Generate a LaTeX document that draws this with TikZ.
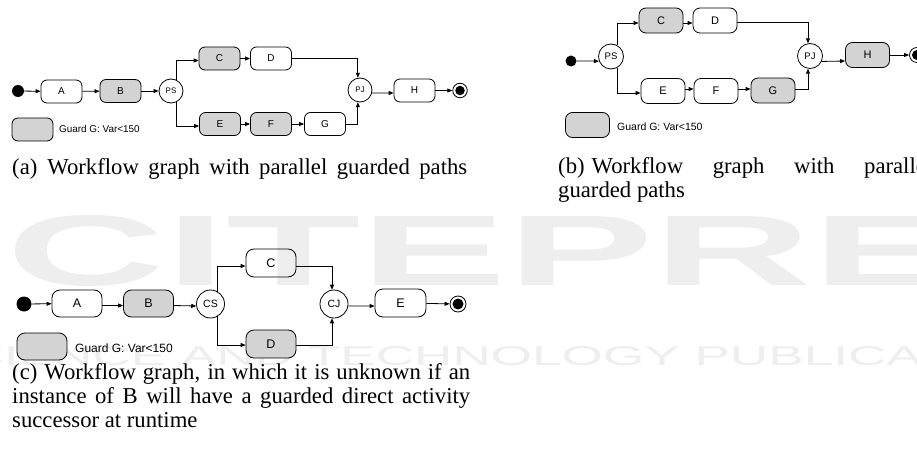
\documentclass[tikz,border=0pt]{standalone}
\usepackage{fontspec}
\usepackage{graphicx}
\setmainfont{Liberation Serif}
\newfontfamily\arialfont{Liberation Sans}
\usetikzlibrary{arrows.meta}
\definecolor{guardfill}{RGB}{211,211,211}
\definecolor{wmgray}{RGB}{238,238,238}

\begin{document}
\begin{tikzpicture}[x=1pt,y=-1pt,
  flow/.style={-{Triangle[length=5pt,width=4pt]}, line width=0.8pt},
  guarded/.style={fill=guardfill},
  actA/.style={draw, rounded corners=6pt, minimum width=41pt, minimum height=23pt,
    inner sep=0pt, line width=0.8pt, font=\arialfont\fontsize{10}{11}\selectfont},
  actB/.style={actA, rounded corners=7pt, minimum width=44pt, minimum height=25pt,
    font=\arialfont\fontsize{11}{12}\selectfont},
  actC/.style={actA, rounded corners=8pt, minimum width=50pt, minimum height=27pt,
    font=\arialfont\fontsize{12.5}{14}\selectfont},
  joinA/.style={circle, draw, fill=white, minimum size=24pt, inner sep=0pt,
    line width=0.8pt, font=\arialfont\fontsize{8}{9}\selectfont},
  joinB/.style={joinA, minimum size=25pt, font=\arialfont\fontsize{9.5}{10}\selectfont},
  joinC/.style={joinA, minimum size=28pt, font=\arialfont\fontsize{10.5}{12}\selectfont},
  startdot/.style={circle, fill=black, inner sep=0pt, minimum size=#1},
  endring/.style={circle, draw, fill=white, inner sep=0pt, line width=0.8pt, minimum size=#1},
  endcore/.style={circle, fill=black, inner sep=0pt, minimum size=#1},
  guardtxt/.style={anchor=west, inner sep=0pt, font=\arialfont\fontsize{#1}{#1}\selectfont},
  captxt/.style={anchor=base west, inner sep=0pt, font=\fontsize{22.7}{24}\selectfont}
]
\useasboundingbox (0,0) rectangle (917,457);
\clip (0,0) rectangle (917,457);
\fill[white] (0,0) rectangle (917,457);

% publisher watermark in the background
\node[anchor=south west, inner sep=0pt, text=wmgray] (wm1) at (-140,287)
  {\resizebox{1390pt}{70pt}{\arialfont\bfseries SCITEPRESS}};
\node[anchor=south west, inner sep=0pt, text=wmgray] (wm2) at (-70,366)
  {\resizebox{1150pt}{19pt}{\arialfont SCIENCE AND TECHNOLOGY PUBLICATIONS}};

% ---------------- (a) parallel guarded paths ----------------
\node[startdot=12pt] (a0) at (18,91) {};
\node[actA] (aA) at (61.5,91.5) {A};
\node[actA, guarded] (aB) at (120.5,91) {B};
\node[joinA] (aPS) at (171,91) {PS};
\node[actA, guarded] (aC) at (219.5,58.5) {C};
\node[actA] (aD) at (271,58.5) {D};
\node[actA, guarded] (aE) at (220,124) {E};
\node[actA, guarded] (aF) at (271,124) {F};
\node[actA] (aG) at (325,124) {G};
\node[joinA] (aPJ) at (360,90) {PJ};
\node[actA] (aH) at (414.5,90.5) {H};
\node[endring=14.5pt] (aEnd) at (460,90.5) {};
\node[endcore=9.5pt] (aEndC) at (aEnd) {};
\node[actA, guarded] (aLeg) at (32.5,129.5) {};
\node[guardtxt=9.9] (aLegT) at (59,129) {Guard G: Var<150};

\draw[flow] (a0) -- (aA);
\draw[flow] (aA) -- (aB);
\draw[flow] (aB) -- (aPS);
\draw[flow] (aPS.65) |- ([yshift=-2pt]aC.west);
\draw[flow] (aC) -- (aD);
\draw[flow] (aD.east) -| (aPJ.100);
\draw[flow] (aPS.-65) |- ([yshift=-2pt]aE.west);
\draw[flow] (aE) -- (aF);
\draw[flow] (aF) -- (aG);
\draw[flow] (aG.east) -| (aPJ.260);
\draw[flow] (aPJ.-14) -- ([yshift=-2.5pt]aH.west);
\draw[flow] (aH) -- (aEnd);

\node[captxt] (aCap) at (12,175)
  {\makebox[455pt][s]{(a)\hspace{10pt}Workflow graph with parallel guarded paths}};

% ---------------- (b) parallel guarded paths ----------------
\node[startdot=11pt] (b0) at (571,61) {};
\node[joinB] (bPS) at (611,56.5) {PS};
\node[actB, guarded] (bC) at (661,20.5) {C};
\node[actB] (bD) at (715,20.5) {D};
\node[actB] (bE) at (663,91) {E};
\node[actB] (bF) at (716,91) {F};
\node[actB, guarded] (bG) at (773,90.5) {G};
\node[joinB] (bPJ) at (810,56) {PJ};
\node[actB, guarded] (bH) at (867.5,55) {H};
\node[endring=15pt] (bEnd) at (917,55) {};
\node[endcore=10pt] (bEndC) at (bEnd) {};
\node[actB, guarded] (bLeg) at (587.5,125) {};
\node[guardtxt=10.5] (bLegT) at (617,127) {Guard G: Var<150};

\draw[flow] (b0.east) -- (bPS.201);
\draw[flow] (bPS.61) |- ([yshift=-2.5pt]bC.west);
\draw[flow] ([yshift=-2.5pt]bC.east) -- ([yshift=-2.5pt]bD.west);
\draw[flow] ([yshift=-1.5pt]bD.east) -| (bPJ.99);
\draw[flow] (bPS.-61) |- ([yshift=-2pt]bE.west);
\draw[flow] ([yshift=2pt]bE.east) -- ([yshift=2pt]bF.west);
\draw[flow] ([yshift=2pt]bF.east) -- ([yshift=1.5pt]bG.west);
\draw[flow] ([yshift=1.5pt]bG.east) -| (bPJ.261);
\draw[flow] (bPJ.-25) -- ([yshift=-6pt]bH.west);
\draw[flow] (bH) -- (bEnd);

\node[captxt] (bCap1) at (558,174)
  {\makebox[374pt][s]{(b)\hspace{7pt}Workflow graph with parallel}};
\node[captxt] (bCap2) at (558,197) {guarded paths};

% ---------------- (c) conditional successor ----------------
\node[startdot=15pt] (c0) at (24,304) {};
\node[actC] (cA) at (77,303.5) {A};
\node[actC, guarded] (cB) at (148.5,303.5) {B};
\node[joinC] (cCS) at (210.5,304) {CS};
\node[actC, minimum height=28pt] (cC) at (271,263) {C};
\node[actC, guarded, minimum height=28pt] (cD) at (271,344) {D};
\node[joinC] (cCJ) at (334,304) {CJ};
\node[actC, minimum width=51pt, minimum height=28pt] (cE) at (400.5,303) {E};
\node[endring=16pt] (cEnd) at (458,304) {};
\node[endcore=11pt] (cEndC) at (cEnd) {};
\node[actC, guarded] (cLeg) at (42,346.5) {};
\node[guardtxt=12] (cLegT) at (75,348) {Guard G: Var<150};

\draw[flow] (c0) -- (cA);
\draw[flow] ([yshift=-2pt]cA.east) -- ([yshift=-2pt]cB.west);
\draw[flow] ([yshift=-2pt]cB.east) -- (cCS.188);
\draw[flow] (cCS.60) |- ([yshift=-3pt]cC.west);
\draw[flow] ([yshift=-3pt]cC.east) -| (cCJ.98);
\draw[flow] (cCS.-60) |- ([yshift=-1pt]cD.west);
\draw[flow] ([yshift=-1pt]cD.east) -| (cCJ.262);
\draw[flow] (cCJ.-8) -- ([yshift=-3pt]cE.west);
\draw[flow] (cE) -- (cEnd);

\node[captxt] (cCap1) at (12,379)
  {\makebox[458pt][s]{(c) Workflow graph, in which it is unknown if an}};
\node[captxt] (cCap2) at (12,403)
  {\makebox[458pt][s]{instance of B will have a guarded direct activity}};
\node[captxt] (cCap3) at (12,427) {successor at runtime};
\end{tikzpicture}
\end{document}
